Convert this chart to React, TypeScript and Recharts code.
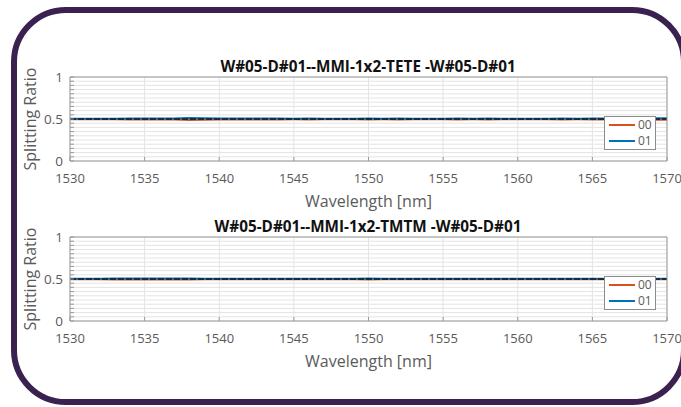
import { CartesianGrid, Label, Line, LineChart, XAxis, YAxis } from "recharts"

const WAVELENGTH = [
  1530, 1531, 1532, 1533, 1534, 1535, 1536, 1537, 1538, 1539, 1540, 1541, 1542,
  1543, 1544, 1545, 1546, 1547, 1548, 1549, 1550, 1551, 1552, 1553, 1554, 1555,
  1556, 1557, 1558, 1559, 1560, 1561, 1562, 1563, 1564, 1565, 1566, 1567, 1568,
  1569, 1570,
]

// TE-TE panel
const TETE_00 = [
  0.497, 0.496, 0.497, 0.496, 0.495, 0.494, 0.495, 0.493, 0.489, 0.491, 0.494,
  0.494, 0.495, 0.494, 0.495, 0.496, 0.495, 0.496, 0.497, 0.496, 0.495, 0.496,
  0.495, 0.496, 0.497, 0.496, 0.495, 0.496, 0.495, 0.496, 0.497, 0.496, 0.496,
  0.495, 0.496, 0.495, 0.494, 0.494, 0.492, 0.491, 0.49,
]
const TETE_01 = [
  0.503, 0.504, 0.503, 0.504, 0.505, 0.506, 0.505, 0.507, 0.511, 0.509, 0.506,
  0.506, 0.505, 0.506, 0.505, 0.504, 0.505, 0.504, 0.503, 0.504, 0.505, 0.504,
  0.505, 0.504, 0.503, 0.504, 0.505, 0.504, 0.505, 0.504, 0.503, 0.504, 0.504,
  0.505, 0.504, 0.505, 0.506, 0.506, 0.508, 0.509, 0.51,
]
const TETE_MID = [
  0.5, 0.5, 0.5, 0.5, 0.5, 0.5, 0.5, 0.5, 0.5, 0.5, 0.5, 0.5, 0.5, 0.5, 0.5,
  0.5, 0.5, 0.5, 0.5, 0.5, 0.5, 0.5, 0.5, 0.5, 0.5, 0.5, 0.5, 0.5, 0.5, 0.5,
  0.5, 0.5, 0.5, 0.5, 0.5, 0.5, 0.5, 0.5, 0.5, 0.5, 0.5,
]

// TM-TM panel
const TMTM_00 = [
  0.497, 0.497, 0.496, 0.495, 0.494, 0.493, 0.493, 0.494, 0.495, 0.496, 0.496,
  0.497, 0.496, 0.497, 0.496, 0.497, 0.497, 0.496, 0.497, 0.496, 0.495, 0.496,
  0.497, 0.496, 0.497, 0.497, 0.496, 0.497, 0.496, 0.496, 0.497, 0.496, 0.497,
  0.496, 0.497, 0.496, 0.496, 0.497, 0.496, 0.496, 0.497,
]
const TMTM_01 = [
  0.503, 0.503, 0.504, 0.505, 0.506, 0.507, 0.507, 0.506, 0.505, 0.504, 0.504,
  0.503, 0.504, 0.503, 0.504, 0.503, 0.503, 0.504, 0.503, 0.504, 0.505, 0.504,
  0.503, 0.504, 0.503, 0.503, 0.504, 0.503, 0.504, 0.504, 0.503, 0.504, 0.503,
  0.504, 0.503, 0.504, 0.504, 0.503, 0.504, 0.504, 0.503,
]
const TMTM_MID = [
  0.5, 0.5, 0.5, 0.5, 0.5, 0.5, 0.5, 0.5, 0.5, 0.5, 0.5, 0.5, 0.5, 0.5, 0.5,
  0.5, 0.5, 0.5, 0.5, 0.5, 0.5, 0.5, 0.5, 0.5, 0.5, 0.5, 0.5, 0.5, 0.5, 0.5,
  0.5, 0.5, 0.5, 0.5, 0.5, 0.5, 0.5, 0.5, 0.5, 0.5, 0.5,
]

const X_TICKS = [1530, 1535, 1540, 1545, 1550, 1555, 1560, 1565, 1570]
const Y_TICKS = [
  0, 0.05, 0.1, 0.15, 0.2, 0.25, 0.3, 0.35, 0.4, 0.45, 0.5, 0.55, 0.6, 0.65,
  0.7, 0.75, 0.8, 0.85, 0.9, 0.95, 1,
]
const Y_LABELED = [0, 0.5, 1]
const SERIES_NAMES = ["00", "01"]

const FONT = "'Open Sans', sans-serif"
const ORANGE = "#d95319"
const BLUE = "#0072bd"
const DARK = "#1c2a3c"
const TEXT = "#5a5a5a"
const AXIS = "#9a9a9a"

const PLOT_H = 84

// only 0, 0.5 and 1 get a label; the other ticks keep just their tick line
function YTick(props: { x?: number; y?: number; payload?: { value: number } }) {
  const v = props.payload?.value ?? 0
  if (!Y_LABELED.includes(v)) return <g />
  return (
    <text
      x={props.x}
      y={props.y}
      dy="0.35em"
      textAnchor="end"
      fill={TEXT}
      fontSize={13.5}
    >
      {String(v)}
    </text>
  )
}

interface PanelProps {
  title: string
  top: number
  s00: number[]
  s01: number[]
  mid: number[]
}

function Panel({ title, top, s00, s01, mid }: PanelProps) {
  const data = WAVELENGTH.map((w, i) => ({
    w,
    s00: s00[i],
    s01: s01[i],
    mid: mid[i],
  }))

  return (
    <div style={{ position: "absolute", left: 0, top: top - 20 }}>
      <div
        style={{
          position: "absolute",
          left: 168,
          width: 400,
          top: 0,
          lineHeight: "18px",
          textAlign: "center",
          fontFamily: FONT,
          fontWeight: 700,
          fontSize: 15.3,
          color: "#111",
          whiteSpace: "nowrap",
        }}
      >
        {title}
      </div>
      <LineChart
        width={681}
        height={20 + PLOT_H + 50}
        data={data}
        margin={{ top: 19, right: 13, left: 0, bottom: 0 }}
        style={{ fontFamily: FONT }}
      >
        <CartesianGrid
          stroke="#e4e4e4"
          strokeWidth={1}
          horizontalValues={Y_TICKS}
          verticalValues={X_TICKS}
        />
        <XAxis
          dataKey="w"
          type="number"
          domain={[1530, 1570]}
          ticks={X_TICKS}
          stroke={AXIS}
          tickSize={-4}
          tickMargin={17}
          height={50}
          tick={{ fill: TEXT, fontSize: 13 }}
          interval={0}
        >
          <Label
            value="Wavelength [nm]"
            position="insideTop"
            offset={35}
            fill={TEXT}
            fontSize={16}
          />
        </XAxis>
        <XAxis
          xAxisId="top"
          orientation="top"
          dataKey="w"
          type="number"
          domain={[1530, 1570]}
          ticks={X_TICKS}
          stroke={AXIS}
          tickSize={-4}
          height={1}
          tick={false}
        />
        <YAxis
          type="number"
          domain={[0, 1]}
          ticks={Y_TICKS}
          interval={0}
          width={70}
          stroke={AXIS}
          tickSize={-4}
          tickMargin={11}
          tick={<YTick />}
        >
          <Label
            value="Splitting Ratio"
            angle={-90}
            position="center"
            dx={-5}
            fill={TEXT}
            fontSize={16}
          />
        </YAxis>
        <YAxis
          yAxisId="right"
          orientation="right"
          type="number"
          domain={[0, 1]}
          ticks={Y_TICKS}
          interval={0}
          width={1}
          stroke={AXIS}
          tickSize={-4}
          tick={false}
        />
        <Line
          dataKey="s00"
          name={SERIES_NAMES[0]}
          stroke={ORANGE}
          strokeWidth={2}
          dot={false}
          isAnimationActive={false}
        />
        <Line
          dataKey="s01"
          name={SERIES_NAMES[1]}
          stroke={BLUE}
          strokeWidth={2}
          dot={false}
          isAnimationActive={false}
        />
        <Line
          dataKey="mid"
          stroke={DARK}
          strokeWidth={2}
          strokeDasharray="6 2"
          dot={false}
          legendType="none"
          isAnimationActive={false}
        />
      </LineChart>
      <div
        style={{
          position: "absolute",
          left: 604,
          top: 20 + 39,
          width: 50,
          height: 32,
          border: "1px solid #8c8c8c",
          background: "#fff",
          fontFamily: FONT,
          fontSize: 12,
          color: TEXT,
        }}
      >
        {[ORANGE, BLUE].map((c, i) => (
          <div
            key={i}
            style={{
              display: "flex",
              alignItems: "center",
              height: 16,
            }}
          >
            <div
              style={{
                marginLeft: 4,
                width: 26,
                height: 2,
                background: c,
              }}
            />
            <span style={{ marginLeft: 3, lineHeight: "14px" }}>
              {SERIES_NAMES[i]}
            </span>
          </div>
        ))}
      </div>
    </div>
  )
}

export default function App() {
  return (
    <div
      style={{
        position: "absolute",
        left: 0,
        top: 0,
        width: 681,
        height: 407,
        overflow: "hidden",
        background: "#fff",
      }}
    >
      <div
        style={{
          position: "absolute",
          left: 11,
          top: 7,
          width: 676,
          height: 398,
          boxSizing: "border-box",
          border: "6px solid #3a2150",
          borderRadius: 55,
        }}
      />
      <Panel
        title="W#05-D#01--MMI-1x2-TETE -W#05-D#01"
        top={77}
        s00={TETE_00}
        s01={TETE_01}
        mid={TETE_MID}
      />
      <Panel
        title="W#05-D#01--MMI-1x2-TMTM -W#05-D#01"
        top={237}
        s00={TMTM_00}
        s01={TMTM_01}
        mid={TMTM_MID}
      />
    </div>
  )
}
